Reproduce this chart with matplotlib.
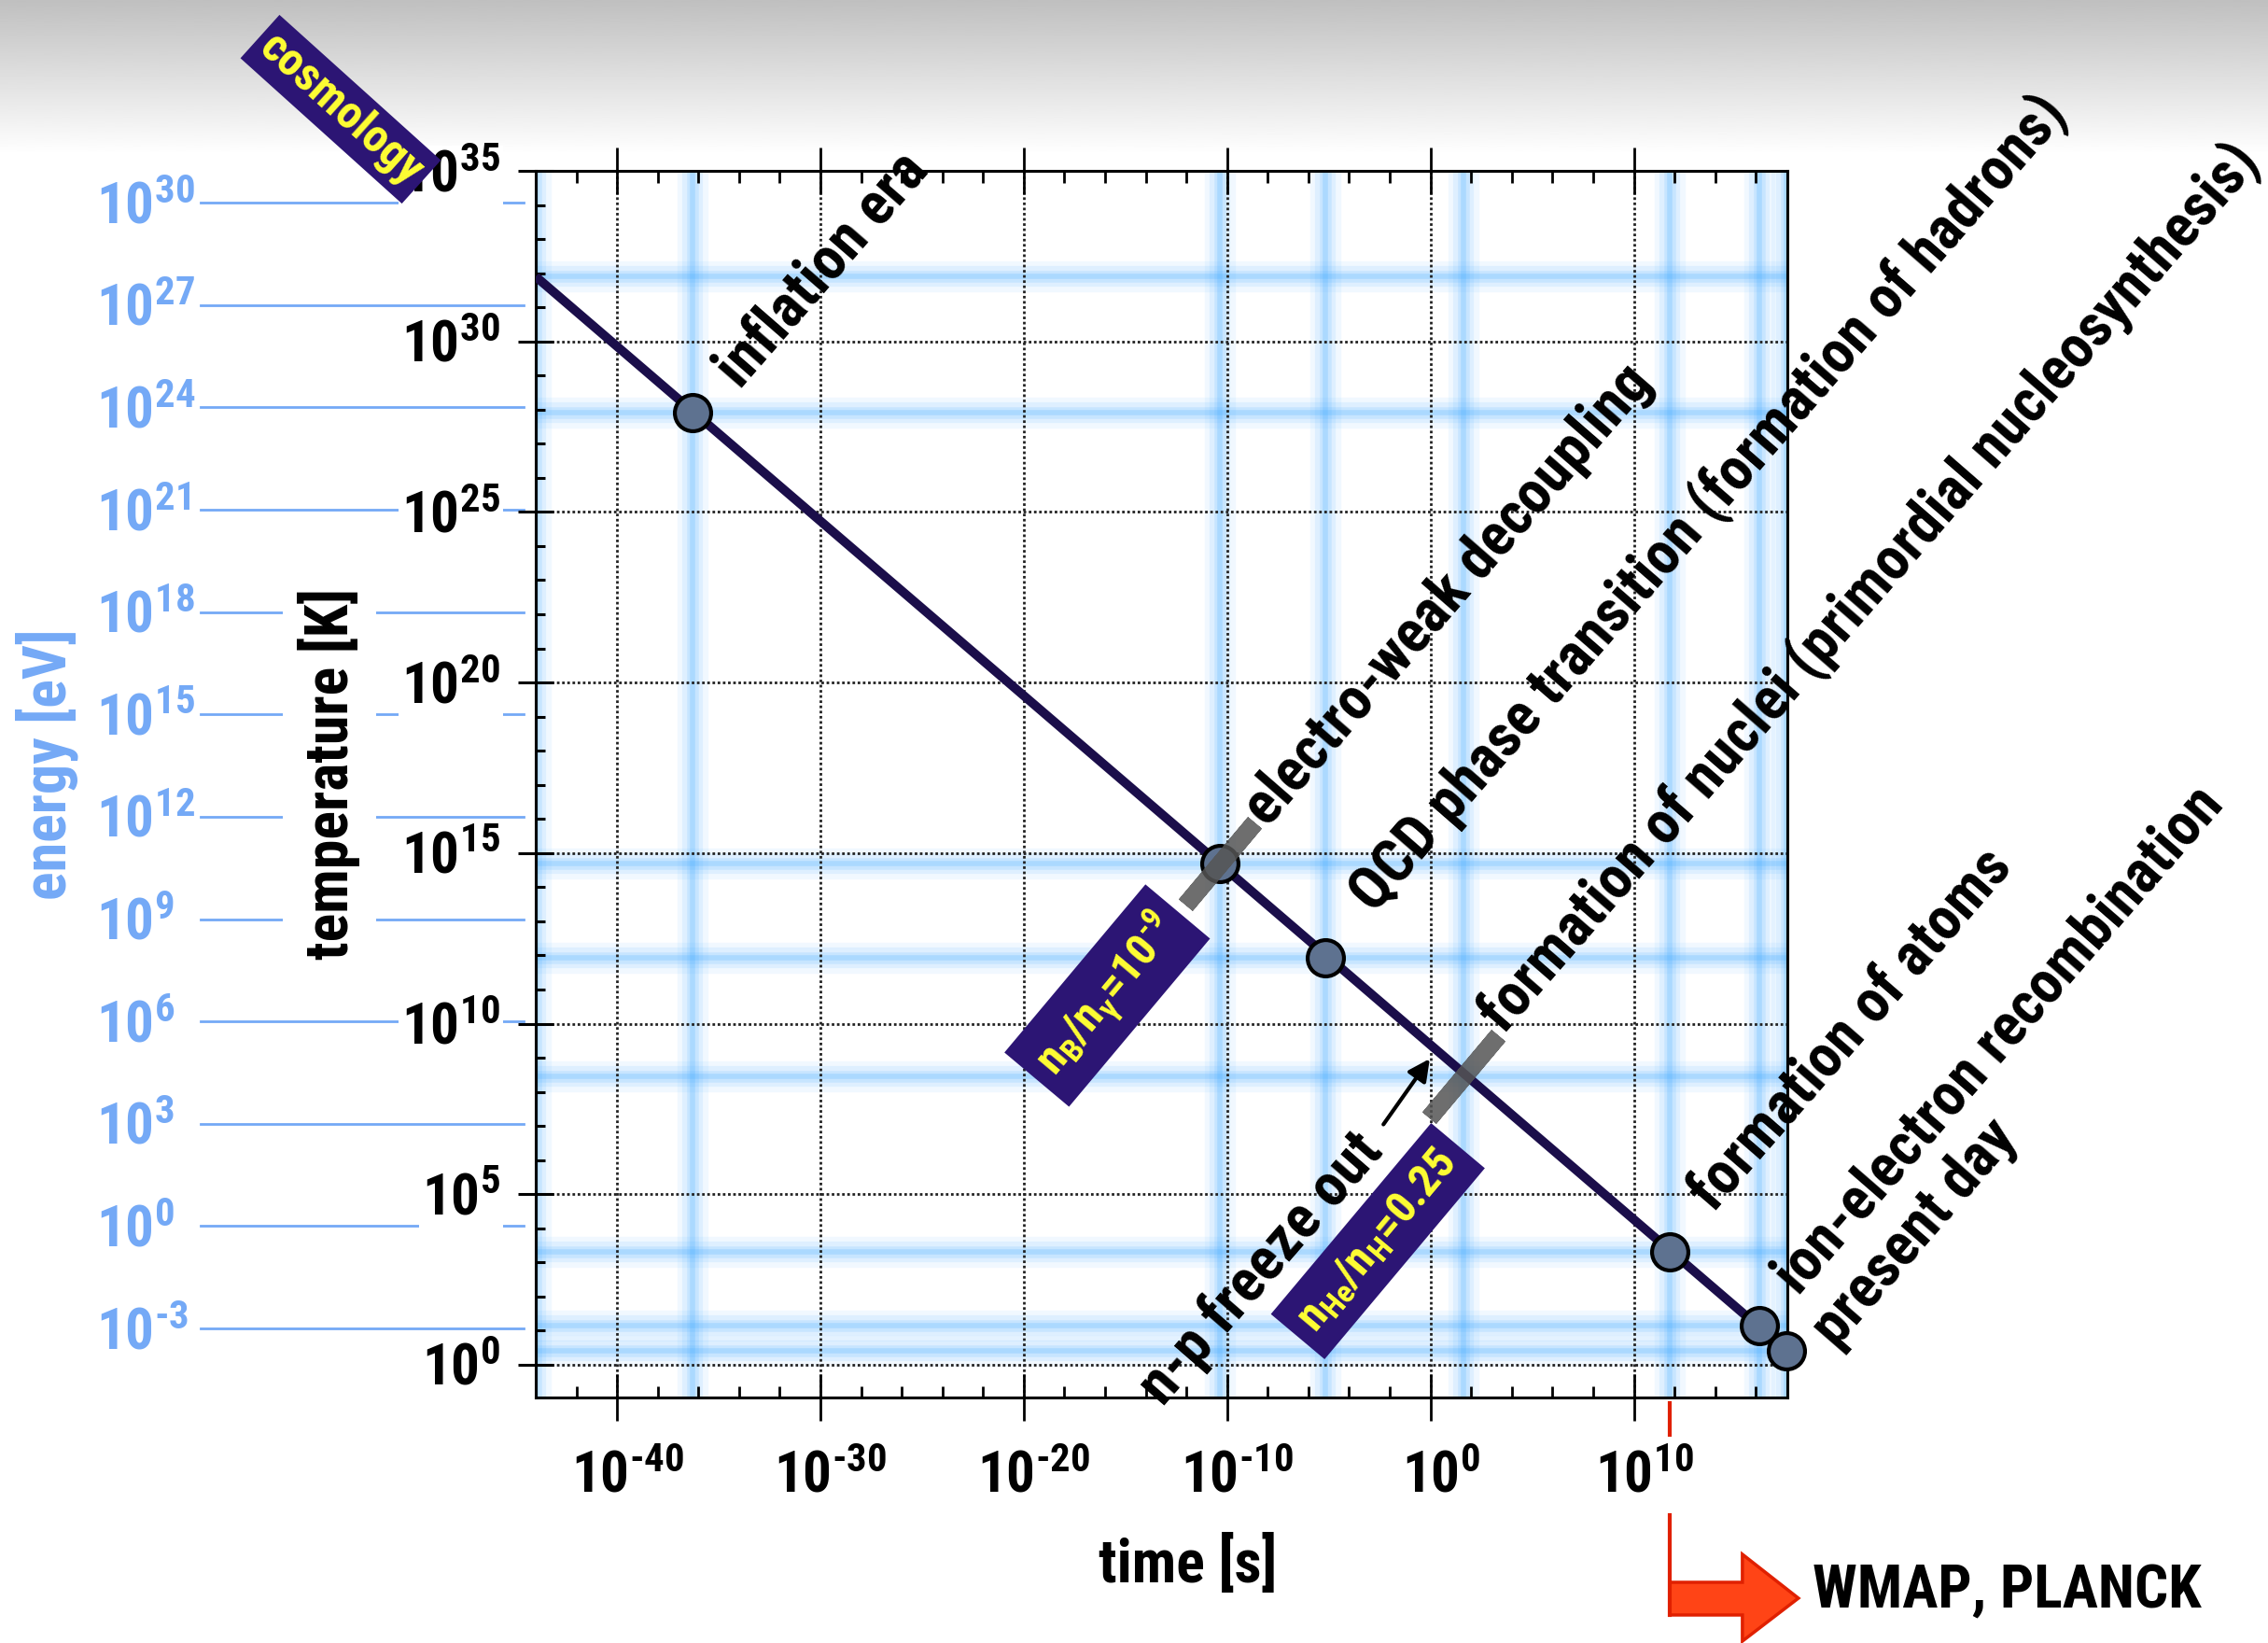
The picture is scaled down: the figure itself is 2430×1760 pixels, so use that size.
import numpy as np
import matplotlib
matplotlib.use('Agg')
import matplotlib.pyplot as plt
import matplotlib.transforms as mtransforms
from matplotlib import font_manager
from matplotlib.patches import Polygon
from matplotlib.lines import Line2D


def pick_font():
    # the reference uses a condensed bold sans; take a narrow face if one is installed
    fl = font_manager.fontManager.ttflist
    names = {f.name for f in fl}
    for p in ['Liberation Sans Narrow', 'Arial Narrow', 'Roboto Condensed',
              'Noto Sans Condensed', 'Open Sans Condensed', 'DejaVu Sans Condensed']:
        if p in names:
            return p, 'normal', True
    for fam in ['Noto Sans', 'Roboto', 'Open Sans', 'DejaVu Sans', 'Liberation Sans']:
        for f in fl:
            if f.name == fam and f.stretch in ('condensed', 'semi-condensed', 'extra-condensed'):
                return fam, f.stretch, True
    for f in fl:
        if ('Narrow' in f.name or 'Condensed' in f.name) and 'Serif' not in f.name \
                and 'Mono' not in f.name:
            return f.name, 'normal', True
    return 'Liberation Sans', 'normal', False


FONT, STRETCH, NARROW = pick_font()
plt.rcParams['font.family'] = [FONT, 'DejaVu Sans']
plt.rcParams['font.stretch'] = STRETCH
plt.rcParams['font.weight'] = 'bold'
pat = FONT + ':bold' + ('' if STRETCH == 'normal' else ':stretch=' + STRETCH)
plt.rcParams['mathtext.fontset'] = 'custom'
plt.rcParams['mathtext.rm'] = pat
plt.rcParams['mathtext.it'] = pat
plt.rcParams['mathtext.bf'] = pat
plt.rcParams['mathtext.default'] = 'rm'
S = 1.0 if NARROW else 0.88

# ---- data (log10 values) ----
time_ticks = [-40, -30, -20, -10, 0, 10]
temp_ticks = [0, 5, 10, 15, 20, 25, 30, 35]
energy_ticks = [30, 27, 24, 21, 18, 15, 12, 9, 6, 3, 0, -3]
KB_EV = 8.617e-5  # eV per K

line_log_t = [-44.0, 17.5]
line_log_T = [31.9, 0.42]

event_labels = ['inflation era',
                'electro-weak decoupling',
                'QCD phase transition (formation of hadrons)',
                'formation of nuclei (primordial nucleosynthesis)',
                'formation of atoms',
                'ion-electron recombination',
                'present day']
event_log_t = [-36.3, -10.35, -5.18, 1.62, 11.76, 16.16, 17.5]
event_log_T = [27.9, 14.7, 11.93, 8.45, 3.31, 1.15, 0.42]
event_marker = [True, True, True, False, True, True, True]

bar_log_t = [-10.35, 1.62]
bar_log_T = [14.7, 8.45]
bar_texts = [r'$n_B/n_{\gamma}\text{=}10^{\text{-}9}$', r'$n_{He}/n_H\text{=}0.25$']

freeze_log_t = 0.3
freeze_log_T = 9.25

cmb_log_t = 11.76

# ---- styles ----
label_offsets = [(27, 26), (27, 35), (28, 42), (21, 41), (24, 38), (21, 31), (29, 9)]
bar_box_offsets = [(-87, -102), (-66, -127)]
BLUE = '#74a9f6'
NAVY = '#2c1574'
YELLOW = '#ffff33'
LINE = '#1b0e4a'
GLOW = '#3fa9ff'
TICK_FS = 44 * S
TXT_FS = 46 * S

W, H = 2430, 1760


def pow10(e):
    if e < 0:
        return r'$10^{\text{-}%d}$' % (-e)
    return r'$10^{%d}$' % e


fig = plt.figure(figsize=(W / 100, H / 100), dpi=100)

# gray fade at the top
bg = fig.add_axes([0, 1 - 165 / H, 1, 165 / H], zorder=-5)
bg.imshow(np.linspace(0.75, 1.0, 256)[:, None], cmap='gray', vmin=0, vmax=1,
          aspect='auto', extent=[0, 1, 0, 1], origin='upper')
bg.axis('off')

ax = fig.add_axes([574 / W, 1 - 1497 / H, (1915 - 574) / W, (1497 - 183) / H])
ax.set_xscale('log')
ax.set_yscale('log')
ax.set_xlim(10.0 ** -44, 10.0 ** 17.55)
ax.set_ylim(10.0 ** -0.96, 10.0 ** 35)

ax.set_xticks([10.0 ** e for e in time_ticks])
ax.set_xticks([10.0 ** e for e in range(-44, 18, 2)], minor=True)
ax.set_yticks([10.0 ** e for e in temp_ticks])
ax.set_yticks([10.0 ** e for e in range(0, 35)], minor=True)
ax.xaxis.set_minor_formatter(matplotlib.ticker.NullFormatter())
ax.yaxis.set_minor_formatter(matplotlib.ticker.NullFormatter())

ax.tick_params(axis='x', which='major', direction='inout', length=36, width=2,
               top=True, bottom=True, labelbottom=False)
ax.tick_params(axis='x', which='minor', direction='in', length=9, width=2,
               top=True, bottom=True)
ax.tick_params(axis='y', which='major', direction='inout', length=28, width=2.2,
               left=True, right=False, labelleft=False)
ax.tick_params(axis='y', which='minor', direction='in', length=7, width=2.2,
               left=True, right=False)
for sp in ax.spines.values():
    sp.set_linewidth(2.2)

ax.grid(True, which='major', linestyle=(0, (1, 1)), linewidth=2.0, color='#222222')

# tick labels placed by hand so the "10" sits centred on its tick
ytr = mtransforms.blended_transform_factory(ax.transAxes, ax.transData)
xtr = mtransforms.blended_transform_factory(ax.transData, ax.transAxes)
ylab_tr = mtransforms.offset_copy(ytr, fig=fig, x=0, y=-22, units='dots')
for e in temp_ticks:
    ax.text((536 - 574) / 1341, 10.0 ** e, pow10(e), transform=ylab_tr, fontsize=TICK_FS,
            ha='right', va='baseline', zorder=2,
            bbox=dict(facecolor='white', edgecolor='none', pad=2))
xlab_tr = mtransforms.offset_copy(xtr, fig=fig, x=11, y=-101, units='dots')
for e in time_ticks:
    ax.text(10.0 ** e, 0, pow10(e), transform=xlab_tr, fontsize=TICK_FS,
            ha='center', va='baseline', zorder=2)

# blurred light blue guide bands
glow_t = [line_log_t[0]] + event_log_t
glow_T = [line_log_T[0]] + event_log_T
for lt, lT in zip(glow_t, glow_T):
    for w, a in [(24, 0.07), (16, 0.10), (9, 0.14), (4, 0.2)]:
        ax.axvline(10.0 ** lt, color=GLOW, lw=w, alpha=a, zorder=0.5, solid_capstyle='butt')
        ax.axhline(10.0 ** lT, color=GLOW, lw=w, alpha=a, zorder=0.5, solid_capstyle='butt')

# energy scale on the left
for e in energy_ticks:
    yT = 10.0 ** (e - np.log10(KB_EV))
    ax.plot([-0.2677, -0.0097], [yT, yT], transform=ytr, color=BLUE, lw=2,
            clip_on=False, zorder=1)
    ax.text(-0.3512, yT, pow10(e), transform=ylab_tr, color=BLUE, fontsize=TICK_FS,
            ha='left', va='baseline', zorder=1)

# temperature history
ax.plot([10.0 ** v for v in line_log_t], [10.0 ** v for v in line_log_T],
        color=LINE, lw=7, zorder=3, solid_capstyle='butt')
mt = [10.0 ** t for t, m in zip(event_log_t, event_marker) if m]
mT = [10.0 ** T for T, m in zip(event_log_T, event_marker) if m]
ax.plot(mt, mT, 'o', ms=28, mfc='#5e7290', mec='black', mew=3, zorder=5, clip_on=False)

ax.plot([10.0 ** v for v in bar_log_t], [10.0 ** v for v in bar_log_T], ls='none',
        marker=(2, 2, -40), ms=83, mew=14, mec='#555555', alpha=0.85, zorder=6)

for name, lt, lT, off in zip(event_labels, event_log_t, event_log_T, label_offsets):
    ax.annotate(name, xy=(10.0 ** lt, 10.0 ** lT), xytext=off, textcoords='offset points',
                rotation=49, rotation_mode='anchor', ha='left', va='center',
                fontsize=TXT_FS, zorder=7)

for txt, lt, lT, off in zip(bar_texts, bar_log_t, bar_log_T, bar_box_offsets):
    ax.annotate(txt, xy=(10.0 ** lt, 10.0 ** lT), xytext=off, textcoords='offset points',
                rotation=50, rotation_mode='anchor', ha='center', va='center',
                fontsize=35 * S, color=YELLOW, zorder=8,
                bbox=dict(boxstyle='square,pad=0.3', facecolor=NAVY, edgecolor='none'))

fp = (10.0 ** freeze_log_t, 10.0 ** freeze_log_T)
ax.annotate('', xy=fp, xytext=(-41, -58), textcoords='offset points',
            arrowprops=dict(arrowstyle='-|>', color='black', lw=3, shrinkA=0, shrinkB=9,
                            mutation_scale=35), zorder=7)
ax.annotate('n-p freeze out', xy=fp, xytext=(-50, -71), textcoords='offset points',
            rotation=49, rotation_mode='anchor', ha='right', va='center',
            fontsize=TXT_FS, zorder=7)

# axis titles
fig.text(1273 / W, 1 - 1675 / H, 'time [s]', fontsize=TXT_FS, ha='center', va='center')
fig.text(353 / W, 1 - 829 / H, 'temperature [K]', fontsize=TXT_FS, rotation=90,
         ha='center', va='center',
         bbox=dict(facecolor='white', edgecolor='none', pad=12))
fig.text(50 / W, 1 - 819 / H, 'energy [eV]', fontsize=TXT_FS, rotation=90, color=BLUE,
         ha='center', va='center')

fig.text(365 / W, 1 - 117 / H, 'cosmology', fontsize=36 * S, rotation=-42, color=YELLOW,
         ha='center', va='center', zorder=10,
         bbox=dict(boxstyle='square,pad=0.15', facecolor=NAVY, edgecolor='none'))

# WMAP / PLANCK arrow
xr = ax.transData.transform((10.0 ** cmb_log_t, 1.0))[0]
RED = '#ff4416'
fig.add_artist(Line2D([xr / W, xr / W], [1 - 1503 / H, 1 - 1537 / H], color='#e02000', lw=3))
fig.add_artist(Line2D([xr / W, xr / W], [1 - 1623 / H, 1 - 1730 / H], color='#e02000', lw=3))
arrow_px = [(xr, 1695), (xr + 78, 1695), (xr + 78, 1665), (xr + 138, 1712),
            (xr + 78, 1758), (xr + 78, 1730), (xr, 1730)]
fig.add_artist(Polygon([(x / W, 1 - y / H) for x, y in arrow_px], closed=True,
                       facecolor=RED, edgecolor='#e02000', lw=2.5,
                       transform=fig.transFigure))
fig.text(1942 / W, 1 - 1705 / H, 'WMAP, PLANCK', fontsize=TXT_FS, ha='left', va='center')

fig.savefig('out.png', dpi=100)
